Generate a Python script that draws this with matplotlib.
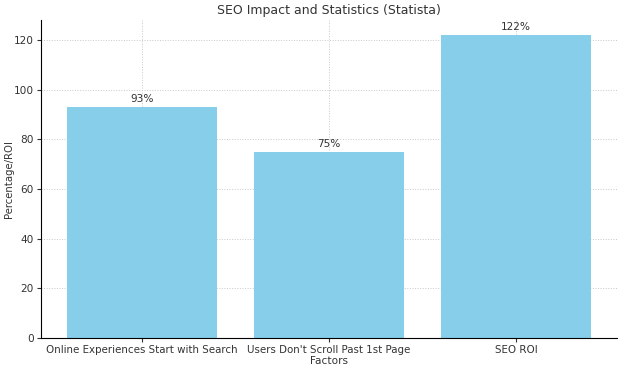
import matplotlib
matplotlib.use('Agg')
import matplotlib.pyplot as plt

categories = ['Online Experiences Start with Search', "Users Don't Scroll Past 1st Page", 'SEO ROI']
values = [93, 75, 122]
labels = ['93%', '75%', '122%']

plt.rcParams['font.size'] = 7.6
fig, ax = plt.subplots(figsize=(6.21, 3.71), dpi=100)
fig.subplots_adjust(left=0.066, right=0.994, top=0.946, bottom=0.089)

bars = ax.bar(categories, values, color='skyblue', width=0.8, zorder=2)
for b, lab in zip(bars, labels):
    ax.annotate(lab, (b.get_x() + b.get_width() / 2, b.get_height()),
                xytext=(0, 2), textcoords='offset points', ha='center', va='bottom',
                color='#333333')

ax.set_title('SEO Impact and Statistics (Statista)', fontsize=9, color='#333333', pad=4)
ax.set_xlabel('Factors', color='#333333', labelpad=1)
ax.set_ylabel('Percentage/ROI', color='#333333', fontsize=7.3)
ax.yaxis.set_label_coords(-0.047, 0.5)
ax.grid(True, linestyle=':', linewidth=0.7, color='#c8c8c8', zorder=0)
ax.spines['top'].set_visible(False)
ax.spines['right'].set_visible(False)
ax.tick_params(colors='#333333', length=3, pad=2)
ax.tick_params(axis='x', labelsize=7.4)

plt.savefig('out.png')
